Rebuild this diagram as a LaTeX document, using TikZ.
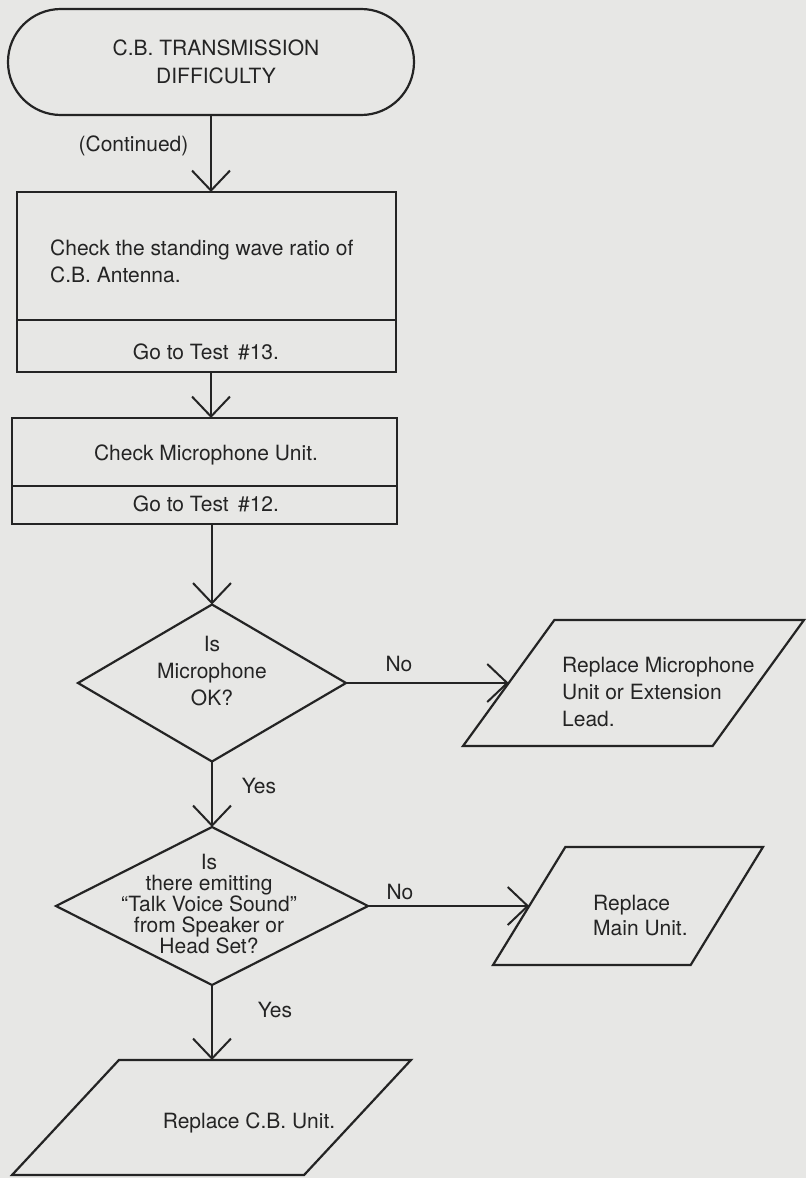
\documentclass[tikz,border=0pt]{standalone}
\usepackage{fontspec}
\setmainfont{TeX Gyre Heros}
\usetikzlibrary{shapes.geometric,arrows.meta}
\definecolor{paper}{RGB}{231,231,229}
\definecolor{ink}{RGB}{36,36,36}
\begin{document}
\begin{tikzpicture}[x=1pt,y=-1pt,
  lbl/.style={inner sep=0pt, text=ink, font=\fontsize{21}{27}\selectfont},
  shapeline/.style={draw=ink, line width=2.2pt, inner sep=2pt, outer sep=0pt},
  term/.style={shapeline, rectangle, rounded corners=52.9pt, minimum width=406pt, minimum height=106pt},
  boxpart/.style={shapeline, rectangle},
  dia/.style={shapeline, diamond},
  para/.style={shapeline, trapezium, trapezium left angle=60, trapezium right angle=120, trapezium stretches=true},
  arr/.style={draw=ink, line width=2pt, -{Straight Barb[length=20pt, width=38pt]}}
]
\fill[paper] (0,0) rectangle (806,1178);
\useasboundingbox (0,0) rectangle (806,1178);

% terminal
\node[term] (t) at (211,62) {};
\node[lbl, align=center, font=\fontsize{21}{28}\selectfont] (tt) at (216,62) {C.B. TRANSMISSION\\DIFFICULTY};
\node[lbl] (cont) at (133.5,146) {(Continued)};

% box 1
\node[boxpart, minimum width=379pt, minimum height=128pt] (b1a) at (206.5,256) {};
\node[boxpart, minimum width=379pt, minimum height=52pt] (b1b) at (206.5,346) {};
\node[lbl, anchor=west, align=left] (b1t) at (50,261) {Check the standing wave ratio of\\C.B. Antenna.};
\node[lbl] (b1g) at (206,352) {Go to Test\hspace{0.45em}\#13.};

% box 2
\node[boxpart, minimum width=385pt, minimum height=68pt] (b2a) at (204.5,452) {};
\node[boxpart, minimum width=385pt, minimum height=38pt] (b2b) at (204.5,505) {};
\node[lbl] (b2t) at (206,455) {Check Microphone Unit.};
\node[lbl] (b2g) at (206,504) {Go to Test\hspace{0.45em}\#12.};

% decision 1
\node[dia, minimum width=268pt, minimum height=157pt] (d1) at (212,683) {};
\node[lbl, align=center] (d1t) at (212,671) {Is\\Microphone\\OK?};
\node[para, minimum width=341pt, minimum height=126pt] (p1) at (633.5,683) {};
\node[lbl, anchor=west, align=left] (p1t) at (562,692) {Replace Microphone\\Unit or Extension\\Lead.};
\node[lbl] (no1) at (399,664) {No};
\node[lbl] (yes1) at (259,786) {Yes};

% decision 2
\node[dia, minimum width=312pt, minimum height=158pt] (d2) at (212,906) {};
\node[lbl, align=center, font=\fontsize{21}{20.8}\selectfont] (d2t) at (209,904) {Is\\there emitting\\“Talk Voice Sound”\\from Speaker or\\Head Set?};
\node[para, minimum width=270pt, minimum height=118pt] (p2) at (628,906) {};
\node[lbl, anchor=west, align=left, font=\fontsize{21}{25}\selectfont] (p2t) at (593,916) {Replace\\Main Unit.};
\node[lbl] (no2) at (400,892) {No};
\node[lbl] (yes2) at (275,1010) {Yes};

% final
\node[para, minimum width=399pt, minimum height=115pt] (p3) at (211.5,1117.5) {};
\node[lbl] (p3t) at (249,1123) {Replace C.B. Unit.};

% connectors
\draw[arr] (t.south) -- (t.south |- b1a.north);
\draw[arr] (t.south |- b1b.south) -- (t.south |- b2a.north);
\draw[arr] (d1.north |- b2b.south) -- (d1.north);
\draw[arr] (d1.east) -- (p1.west);
\draw[arr] (d1.south) -- (d2.north);
\draw[arr] (d2.east) -- (p2.west);
\draw[arr] (d2.south) -- (d2.south |- p3.north);
\end{tikzpicture}
\end{document}
